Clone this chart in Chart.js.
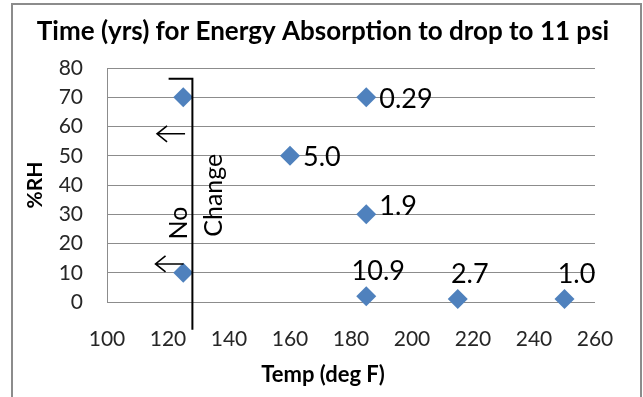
<!DOCTYPE html>
<html>
<head>
<meta charset="utf-8">
<script src="https://cdn.jsdelivr.net/npm/chart.js@4/dist/chart.umd.min.js"></script>
<style>
  html, body { margin: 0; padding: 0; background: #fff; }
  #box { width: 643px; height: 397px; }
</style>
</head>
<body>
<div id="box"><canvas id="rh"></canvas></div>
<script>
// datos
const tempF = [125, 125, 160, 185, 185, 185, 215, 250];
const rhPct = [70, 10, 50, 70, 30, 2, 1, 1];
const yearsLabel = ["", "", "5.0", "0.29", "1.9", "10.9", "2.7", "1.0"];
const labelSide = ["", "", "right", "right", "right", "above", "above", "above"];
const xTicks = [100, 120, 140, 160, 180, 200, 220, 240, 260];
const yTicks = [0, 10, 20, 30, 40, 50, 60, 70, 80];

// limite "No Change" (en unidades de los ejes)
const limitTemp = 128;

const fam = "Lato, 'Open Sans', sans-serif";

// marco exterior + anotaciones + etiquetas de datos
const extras = {
    id: "extras",
    beforeDraw(chart) {
        const c = chart.ctx;
        c.save();
        c.fillStyle = "#fff";
        c.fillRect(0, 0, chart.width, chart.height);
        c.strokeStyle = "#8c8c8c";
        c.lineWidth = 2;
        c.strokeRect(12, 4, 629, 500);
        c.restore();
    },
    afterDatasetsDraw(chart) {
        const c = chart.ctx;
        const xs = chart.scales.x;
        const ys = chart.scales.y;
        const px = (v) => xs.getPixelForValue(v);
        const py = (v) => ys.getPixelForValue(v);

        c.save();
        c.strokeStyle = "#000";
        c.lineWidth = 2;
        c.beginPath();
        c.moveTo(px(120.2), py(76.3));
        c.lineTo(px(limitTemp), py(76.3));
        c.lineTo(px(limitTemp), py(-9.5));
        c.stroke();

        // flechas
        c.lineWidth = 1.6;
        [[57.5, 121], [13, 120.5]].forEach(([yv, xv]) => {
            const x0 = px(xv) - 14, x1 = px(xv) + 14, y = py(yv);
            c.beginPath();
            c.moveTo(x1, y);
            c.lineTo(x0, y);
            c.moveTo(x0 + 10, y - 8);
            c.lineTo(x0, y);
            c.lineTo(x0 + 10, y + 8);
            c.stroke();
        });

        c.fillStyle = "#000";
        c.font = "25px " + fam;
        c.textAlign = "center";
        c.textBaseline = "middle";
        [["No", 123.5, 27], ["Change", 135, 36.5]].forEach(([t, xv, yv]) => {
            c.save();
            c.translate(px(xv), py(yv));
            c.rotate(-Math.PI / 2);
            c.fillText(t, 0, 0);
            c.restore();
        });

        // etiquetas de datos
        const meta = chart.getDatasetMeta(0);
        c.font = "27px " + fam;
        meta.data.forEach((pt, i) => {
            if (!yearsLabel[i]) return;
            if (labelSide[i] === "right") {
                c.textAlign = "left";
                c.fillText(yearsLabel[i], pt.x + 13, pt.y + (i === 4 ? -8 : 2));
            } else {
                c.textAlign = "center";
                c.fillText(yearsLabel[i], pt.x + 12, pt.y - 25);
            }
        });
        c.restore();
    },
};

new Chart(document.getElementById("rh"), {
    type: "scatter",
    data: {
        datasets: [
            {
                label: "%RH",
                data: tempF.map((t, i) => ({ x: t, y: rhPct[i] })),
                pointStyle: "rectRot",
                pointRadius: 10,
                pointHoverRadius: 10,
                backgroundColor: "#4f81bd",
                borderColor: "#4f81bd",
                borderWidth: 0,
                clip: false,
            },
        ],
    },
    options: {
        responsive: true,
        maintainAspectRatio: false,
        animation: false,
        layout: { padding: { left: 3, right: 0, top: 0, bottom: 0 } },
        plugins: {
            legend: { display: false },
            tooltip: { enabled: false },
            title: {
                display: true,
                text: "Time (yrs) for Energy Absorption to drop to 11 psi",
                color: "#000",
                font: { family: fam, size: 26, weight: "bold" },
                padding: { top: 16.4, bottom: 20.4 },
            },
            subtitle: {
                display: true,
                position: "bottom",
                text: "Temp (deg F)",
                color: "#000",
                font: { family: fam, size: 22, weight: "bold" },
                padding: { top: 0, bottom: 8.8 },
            },
        },
        scales: {
            x: {
                type: "linear",
                min: xTicks[0],
                max: xTicks[xTicks.length - 1],
                afterBuildTicks: (s) => { s.ticks = xTicks.map((v) => ({ value: v })); },
                grid: { display: false, drawTicks: false },
                border: { display: false },
                ticks: { color: "#262626", font: { family: fam, size: 21 }, padding: 25 },
                afterFit: (s) => { s.height = 397 - 35.2 - 302; },
            },
            y: {
                min: yTicks[0],
                max: yTicks[yTicks.length - 1],
                afterBuildTicks: (s) => { s.ticks = yTicks.map((v) => ({ value: v })); },
                grid: { color: "#8c8c8c", drawTicks: false },
                border: { color: "#8c8c8c" },
                ticks: { color: "#262626", font: { family: fam, size: 21 }, padding: 24 },
                title: {
                    display: true,
                    text: "%RH",
                    color: "#000",
                    font: { family: fam, size: 21, weight: "bold" },
                    padding: { top: 20 },
                },
                afterFit: (s) => { s.width = 104; },
            },
            pad: {
                type: "linear",
                position: "right",
                display: true,
                grid: { display: false, drawTicks: false },
                border: { display: false },
                ticks: { display: false },
                afterFit: (s) => { s.width = 48; },
            },
        },
    },
    plugins: [extras],
});
</script>
</body>
</html>
